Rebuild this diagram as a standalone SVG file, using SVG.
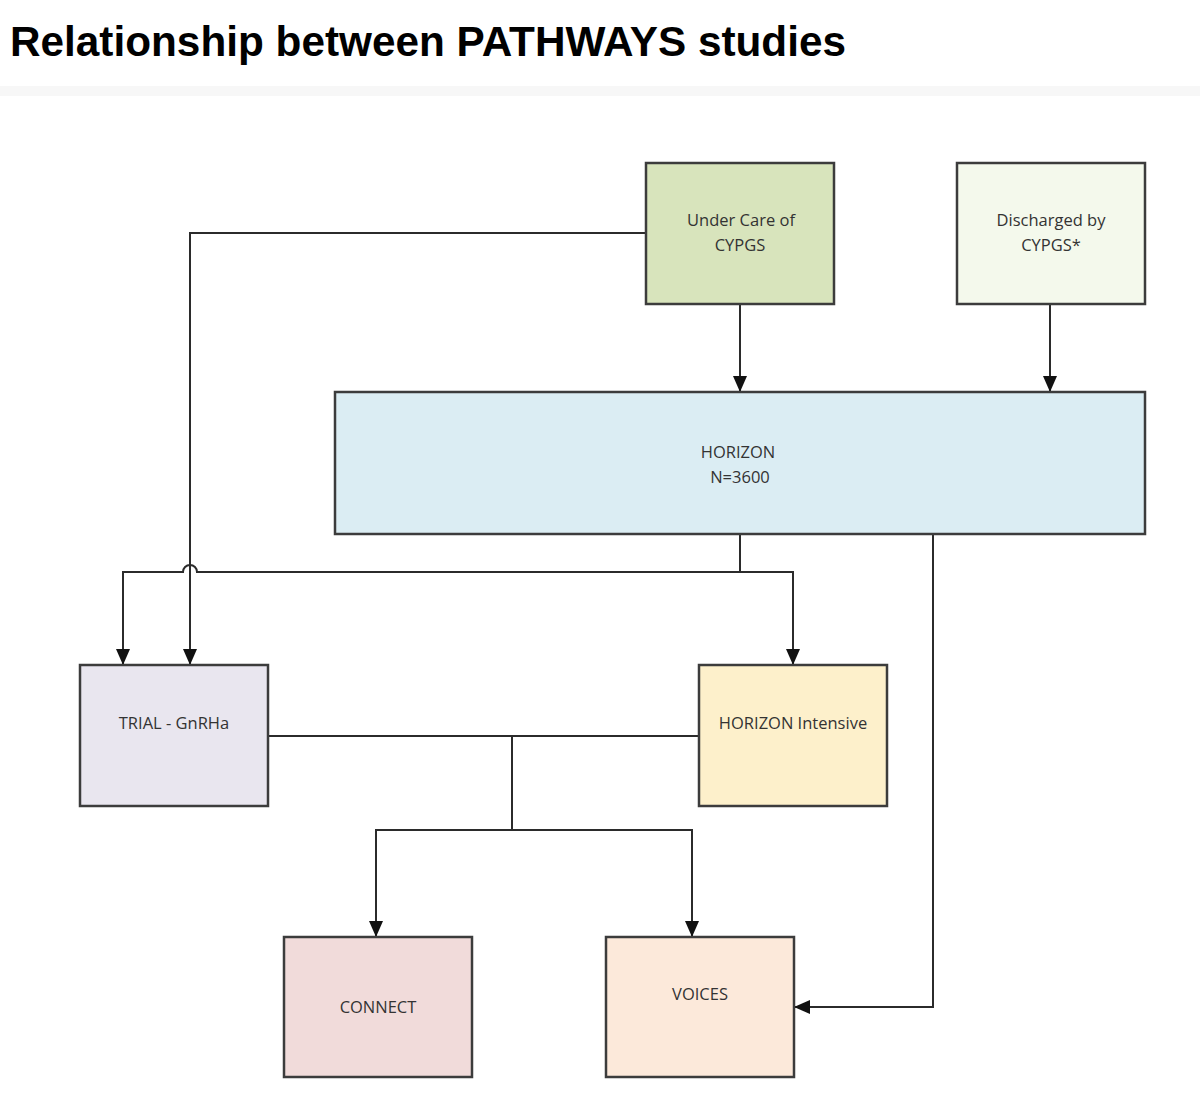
<svg xmlns="http://www.w3.org/2000/svg" width="1200" height="1105" viewBox="0 0 1200 1105">
<defs>
<marker id="arr" viewBox="0 0 16 14" refX="16" refY="7" markerWidth="16" markerHeight="14" markerUnits="userSpaceOnUse" orient="auto">
<path d="M0,0 L16,7 L0,14 Z" fill="#111"/>
</marker>
<style>
.box{stroke:#3c3c3c;stroke-width:2.5}
.lbl{font-family:"Open Sans","Noto Sans",sans-serif;font-size:16.5px;fill:#333;text-anchor:middle}
.ln{fill:none;stroke:#2b2b2b;stroke-width:2}
</style>
</defs>
<rect width="1200" height="1105" fill="#fff"/>
<text x="10" y="56" font-family="Liberation Sans, Arial, sans-serif" font-weight="bold" font-size="43" fill="#000" textLength="836" lengthAdjust="spacingAndGlyphs">Relationship between PATHWAYS studies</text>
<rect x="0" y="86" width="1200" height="10" fill="#f7f7f7"/>

<g id="connectors">
<path class="ln" d="M646,233 H190 V665" marker-end="url(#arr)"/>
<path class="ln" d="M740,304 V392" marker-end="url(#arr)"/>
<path class="ln" d="M1050,304 V392" marker-end="url(#arr)"/>
<path class="ln" d="M740,534 V572"/>
<path class="ln" d="M123,665 V572 H183 A7,7 0 0 1 197,572 H793 V665" marker-end="url(#arr)"/>
<path class="ln" d="M123,572 V665" marker-end="url(#arr)"/>
<path class="ln" d="M933,534 V1007 H794" marker-end="url(#arr)"/>
<path class="ln" d="M268,736 H699"/>
<path class="ln" d="M512,736 V830"/>
<path class="ln" d="M376,937 V830 H692 V937" marker-end="url(#arr)"/>
<path class="ln" d="M376,830 V937" marker-end="url(#arr)"/>
</g>

<g id="under-care">
<rect class="box" x="646" y="163" width="188" height="141" fill="#d8e4bc"/>
<text class="lbl" x="741" y="226">Under Care of</text>
<text class="lbl" x="740" y="251">CYPGS</text>
</g>
<g id="discharged">
<rect class="box" x="957" y="163" width="188" height="141" fill="#f4f9ec"/>
<text class="lbl" x="1051" y="226">Discharged by</text>
<text class="lbl" x="1051" y="251">CYPGS*</text>
</g>
<g id="horizon">
<rect class="box" x="335" y="392" width="810" height="142" fill="#dbedf3"/>
<text class="lbl" x="738" y="458">HORIZON</text>
<text class="lbl" x="740" y="483">N=3600</text>
</g>
<g id="trial">
<rect class="box" x="80" y="665" width="188" height="141" fill="#e9e6ef"/>
<text class="lbl" x="174" y="729">TRIAL - GnRHa</text>
</g>
<g id="horizon-intensive">
<rect class="box" x="699" y="665" width="188" height="141" fill="#fdf0cb"/>
<text class="lbl" x="793" y="729">HORIZON Intensive</text>
</g>
<g id="connect">
<rect class="box" x="284" y="937" width="188" height="140" fill="#f1dbda"/>
<text class="lbl" x="378" y="1013">CONNECT</text>
</g>
<g id="voices">
<rect class="box" x="606" y="937" width="188" height="140" fill="#fce9da"/>
<text class="lbl" x="700" y="1000">VOICES</text>
</g>
</svg>
